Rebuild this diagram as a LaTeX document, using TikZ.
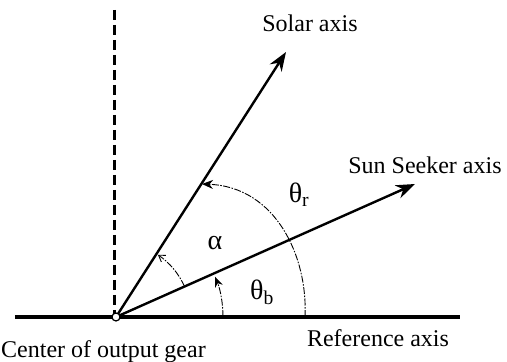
\documentclass[tikz,border=0pt]{standalone}
\usepackage{fontspec}
\setmainfont{Liberation Serif}
\usetikzlibrary{calc,arrows.meta}

\begin{document}
\begin{tikzpicture}[x=1pt,y=1pt,
    axisline/.style={line width=2.4pt,-{Stealth[length=19pt,width=14pt]}},
    anglearc/.style={line width=0.9pt,dash pattern=on 7pt off 1.5pt on 1.5pt off 1.5pt},
    lbl/.style={font=\fontsize{24}{28}\selectfont,inner sep=0pt},
    grk/.style={font=\fontsize{28}{32}\selectfont,inner sep=0pt}]
    \useasboundingbox (-116,-45) rectangle (391,317);
    \def\size{4}
    \coordinate (O)  at (0,0);
    \coordinate (RL) at (-101,0);
    \coordinate (RR) at (344,0);
    \coordinate (VT) at (-1,307);
    \coordinate (VB) at (-1,0);
    \coordinate (SA) at (170,265);
    \coordinate (SS) at (299,133);
    \draw[line width=3.5pt] (RL) -- (RR);
    \draw[line width=3pt,dash pattern=on 10pt off 5pt] (VT) -- (VB);
    \draw[axisline] (O) -- (SA);
    \draw[axisline] (O) -- (SS);
    % angle arcs
    \draw[anglearc,-{Stealth[length=11pt,width=9pt]}] (189,0) .. controls (192,60) and (160,130) .. (86,133);
    \draw[anglearc,-{Straight Barb[length=6pt,width=8pt]}] (24:75) arc (24:56:75);
    \draw[anglearc,-{Stealth[length=10pt,width=8pt]}] (0:107) arc (0:22:107);
    \filldraw[fill=white,draw=black,line width=1.2pt] (O) circle (\size);
    % labels
    \node[lbl] (solar) at (194,294) {Solar axis};
    \node[lbl] (seeker) at (309,152) {Sun Seeker axis};
    \node[grk] (thr) at (183,122) {θ\textsubscript{r}};
    \node[grk] (alp) at (99,74) {α};
    \node[grk] (thb) at (146,25) {θ\textsubscript{b}};
    \node[lbl] (ref) at (262,-21) {Reference axis};
    \node[lbl,anchor=west] (gear) at (-115,-35) {Center of output gear};
\end{tikzpicture}
\end{document}
